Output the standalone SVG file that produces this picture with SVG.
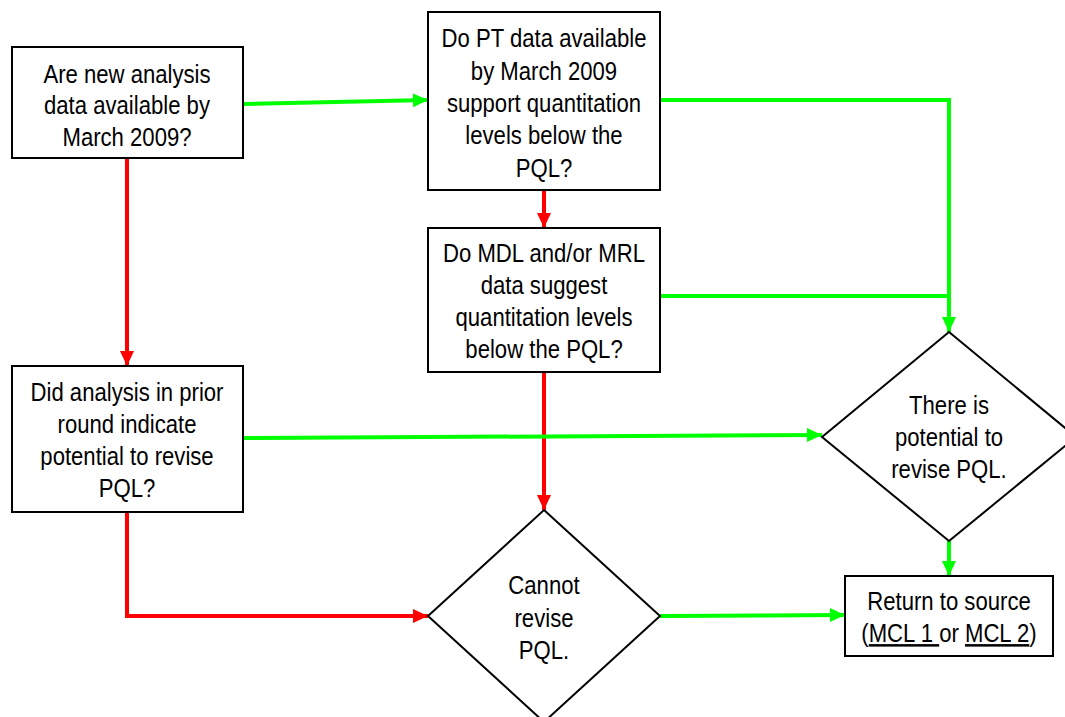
<svg xmlns="http://www.w3.org/2000/svg" width="1065" height="717" viewBox="0 0 1065 717">
<style>
.box{fill:#fff;stroke:#000;stroke-width:2}
.t{font-family:"Liberation Sans",Arial,sans-serif;font-size:25px;fill:#000;text-anchor:middle}
.g{fill:none;stroke:#00ff00;stroke-width:4}
.r{fill:none;stroke:#ff0000;stroke-width:4}
</style>
<defs>
<marker id="ag" markerUnits="userSpaceOnUse" markerWidth="16" markerHeight="16" viewBox="0 0 16 16" refX="15" refY="8" orient="auto"><path d="M0,1 L15,8 L0,15 Z" fill="#00ff00"/></marker>
<marker id="ar" markerUnits="userSpaceOnUse" markerWidth="16" markerHeight="16" viewBox="0 0 16 16" refX="15" refY="8" orient="auto"><path d="M0,1 L15,8 L0,15 Z" fill="#ff0000"/></marker>
</defs>
<rect width="1065" height="717" fill="#fff"/>
<g id="connectors">
<path class="g" d="M243,104 L428,100" marker-end="url(#ag)"/>
<path class="g" d="M660,100 L949,100 L949,332" marker-end="url(#ag)"/>
<path class="g" d="M660,296 L949,296"/>
<path class="r" d="M544,190 L544,228" marker-end="url(#ar)"/>
<path class="r" d="M544,372 L544,510" marker-end="url(#ar)"/>
<path class="r" d="M127,158 L127,366" marker-end="url(#ar)"/>
<path class="g" d="M243,438 L822,435" marker-end="url(#ag)"/>
<path class="r" d="M127,512 L127,616 L428,616" marker-end="url(#ar)"/>
<path class="g" d="M660,616 L845,615" marker-end="url(#ag)"/>
<path class="g" d="M949,541 L949,576" marker-end="url(#ag)"/>
</g>
<g id="n1">
<rect class="box" x="12" y="47" width="231" height="111"/>
<text class="t" transform="translate(127 0) scale(0.885 1)"><tspan x="0" y="83">Are new analysis</tspan><tspan x="0" y="114">data available by</tspan><tspan x="0" y="146">March 2009?</tspan></text>
</g>
<g id="n2">
<rect class="box" x="428" y="12" width="232" height="178"/>
<text class="t" transform="translate(544 0) scale(0.885 1)"><tspan x="0" y="47">Do PT data available</tspan><tspan x="0" y="80">by March 2009</tspan><tspan x="0" y="112">support quantitation</tspan><tspan x="0" y="144">levels below the</tspan><tspan x="0" y="177">PQL?</tspan></text>
</g>
<g id="n3">
<rect class="box" x="428" y="228" width="232" height="144"/>
<text class="t" transform="translate(544 0) scale(0.885 1)"><tspan x="0" y="262">Do MDL and/or MRL</tspan><tspan x="0" y="294">data suggest</tspan><tspan x="0" y="326">quantitation levels</tspan><tspan x="0" y="358">below the PQL?</tspan></text>
</g>
<g id="n4">
<rect class="box" x="12" y="366" width="231" height="146"/>
<text class="t" transform="translate(127 0) scale(0.885 1)"><tspan x="0" y="401">Did analysis in prior</tspan><tspan x="0" y="433">round indicate</tspan><tspan x="0" y="465">potential to revise</tspan><tspan x="0" y="497">PQL?</tspan></text>
</g>
<g id="n5">
<path class="box" d="M544,510 L660,616 L544,722 L428,616 Z"/>
<text class="t" transform="translate(544 0) scale(0.885 1)"><tspan x="0" y="594">Cannot</tspan><tspan x="0" y="627">revise</tspan><tspan x="0" y="659">PQL.</tspan></text>
</g>
<g id="n6">
<path class="box" d="M949,332 L1076,437 L949,541 L822,437 Z"/>
<text class="t" transform="translate(949 0) scale(0.885 1)"><tspan x="0" y="414">There is</tspan><tspan x="0" y="446">potential to</tspan><tspan x="0" y="478">revise PQL.</tspan></text>
</g>
<g id="n7">
<rect class="box" x="845" y="576" width="208" height="80"/>
<text class="t" transform="translate(949 0) scale(0.885 1)"><tspan x="0" y="610">Return to source</tspan><tspan x="0" y="642">(<tspan text-decoration="underline">MCL 1 </tspan>or <tspan text-decoration="underline">MCL 2</tspan>)</tspan></text>
</g>
</svg>
